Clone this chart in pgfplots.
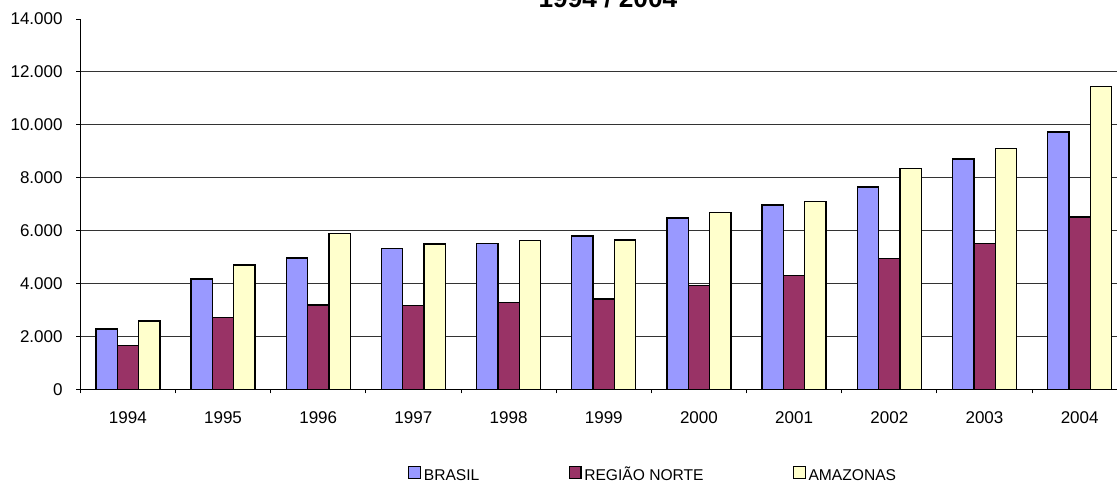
\documentclass[border=0pt]{standalone}
\usepackage{pgfplots}
\pgfplotsset{compat=1.18}
\usepackage{fontspec}
\setmainfont{Liberation Sans}
\definecolor{cbr}{HTML}{9999FF}
\definecolor{cno}{HTML}{993366}
\definecolor{cam}{HTML}{FFFFCC}
\begin{document}
\begin{tikzpicture}
\begin{axis}[
  at={(0pt,0pt)}, anchor=south west,
  scale only axis, width=785.2pt, height=277.7pt,
  ybar=0pt, bar width=16pt,
  xmin=-0.5, xmax=10.5, ymin=0, ymax=14000,
  scaled y ticks=false,
  xtick={-0.5,0.5,...,10.5}, xticklabels={},
  extra x ticks={0,1,2,3,4,5,6,7,8,9,10},
  extra x tick labels={1994,1995,1996,1997,1998,1999,2000,2001,2002,2003,2004},
  extra x tick style={major tick length=0pt, grid=none},
  xticklabel style={yshift=-13.5pt},
  ytick={0,2000,4000,6000,8000,10000,12000},
  yticklabels={0,2.000,4.000,6.000,8.000,10.000,12.000},
  extra y ticks={14000}, extra y tick labels={14.000},
  extra y tick style={grid=none},
  yticklabel style={xshift=-6.75pt},
  ymajorgrids, grid style={black!80, line width=0.75pt},
  tick align=outside, major tick length=3pt,
  axis x line*=bottom, axis y line*=left,
  axis line style={black, line width=0.75pt, -},
  tick style={black, line width=0.75pt},
  ticklabel style={font=\fontsize{12.75}{15}\selectfont},
  title={1994 / 2004},
  every axis title shift=0pt,
  title style={at={(0.504,1.0324)}, anchor=base, yshift=0pt, font=\bfseries\fontsize{19.7}{22}\selectfont, inner sep=0pt},
  legend columns=3,
  legend style={at={(0.313,-0.2314)}, anchor=west, draw=none, fill=none, inner sep=0pt,
    font=\fontsize{11.7}{14}\selectfont,
    nodes={text height=8.6pt, text depth=0.5pt},
    /tikz/every even column/.append style={column sep=65pt}},
  every axis plot/.append style={legend image code/.code={\draw[#1, line width=0.9pt] (0pt,-2.6pt) rectangle (8.8pt,6.2pt);}},
]
\addplot[fill=cbr, draw=black, line width=1pt] coordinates {(0,2276) (1,4166) (2,4960) (3,5323) (4,5512) (5,5803) (6,6484) (7,6975) (8,7645) (9,8715) (10,9735)};
\addplot[fill=cno, draw=black, line width=1pt] coordinates {(0,1656) (1,2715) (2,3195) (3,3168) (4,3282) (5,3410) (6,3924) (7,4317) (8,4945) (9,5512) (10,6510)};
\addplot[fill=cam, draw=black, line width=1pt] coordinates {(0,2590) (1,4696) (2,5890) (3,5490) (4,5626) (5,5641) (6,6684) (7,7100) (8,8348) (9,9104) (10,11448)};
\legend{BRASIL, REGIÃO NORTE, AMAZONAS}
\end{axis}
\pgfresetboundingbox
\path[use as bounding box] (-60.2pt,-71.0pt) rectangle (777.5pt,292.0pt);
\end{tikzpicture}
\end{document}
